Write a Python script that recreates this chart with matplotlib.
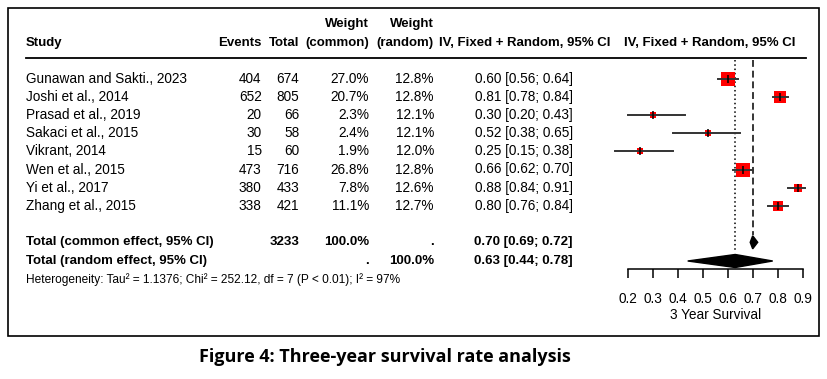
import numpy as np
import matplotlib
matplotlib.use("Agg")
import matplotlib.pyplot as plt
import matplotlib.transforms as mtransforms
from matplotlib.patches import Rectangle, Polygon

plt.rcParams['font.family'] = ['Liberation Sans', 'DejaVu Sans']

# ---- data ----
studies = ["Gunawan and Sakti., 2023", "Joshi et al., 2014", "Prasad et al., 2019",
           "Sakaci et al., 2015", "Vikrant, 2014", "Wen et al., 2015",
           "Yi et al., 2017", "Zhang et al., 2015"]
events = [404, 652, 20, 30, 15, 473, 380, 338]
totals = [674, 805, 66, 58, 60, 716, 433, 421]
w_common = [27.0, 20.7, 2.3, 2.4, 1.9, 26.8, 7.8, 11.1]
w_random = [12.8, 12.8, 12.1, 12.1, 12.0, 12.8, 12.6, 12.7]
est = [0.60, 0.81, 0.30, 0.52, 0.25, 0.66, 0.88, 0.80]
lo = [0.56, 0.78, 0.20, 0.38, 0.15, 0.62, 0.84, 0.76]
hi = [0.64, 0.84, 0.43, 0.65, 0.38, 0.70, 0.91, 0.84]

common_est, common_lo, common_hi = 0.70, 0.69, 0.72
random_est, random_lo, random_hi = 0.63, 0.44, 0.78
n_total = 3233
het_text = ("Heterogeneity: Tau\u00b2 = 1.1376; Chi\u00b2 = 252.12, df = 7 (P < 0.01); "
            "I\u00b2 = 97%")
xticks = [0.2, 0.3, 0.4, 0.5, 0.6, 0.7, 0.8, 0.9]
xlabel = "3 Year Survival"
caption = "Figure 4: Three-year survival rate analysis"

W, H = 828, 379
fig = plt.figure(figsize=(W / 100, H / 100), dpi=100)

# forest axes: x 0.1..1.0 so that 0.2 -> 627.7px and 0.9 -> 802.7px
px_per_unit = 250
ax_left = 627.7 - 0.1 * px_per_unit
ax_w = 0.9 * px_per_unit
top_px, bot_px = 58.3, 269.0
row_px = 18.1


def row_y(px):
    return (px - 79.0) / row_px + 1


fs = 9.8
fsb = 9.5

ax = fig.add_axes([ax_left / W, 1 - bot_px / H, ax_w / W, (bot_px - top_px) / H])
ax.set_xlim(0.1, 1.0)
ax.set_ylim(row_y(bot_px), row_y(top_px))
for s in ["top", "right", "left"]:
    ax.spines[s].set_visible(False)
ax.spines["bottom"].set_bounds(0.2, 0.9)
ax.spines["bottom"].set_linewidth(1.1)
ax.set_yticks([])
ax.set_xticks(xticks)
ax.set_xticklabels([f"{t:.1f}" for t in xticks], fontsize=fs)
ax.tick_params(axis="x", direction="out", length=6.5, width=1.1, pad=10)
ax.set_xlabel(xlabel, fontsize=fs, labelpad=1.5)
ax.patch.set_visible(False)

rows = np.arange(1, len(studies) + 1)
y_common = row_y(242.3)
y_random = row_y(261.0)

# reference lines (common dashed, random dotted)
ax.plot([common_est, common_est], [row_y(60), row_y(235)], color="black",
        lw=1.1, linestyle=(0, (4.5, 2.5)), clip_on=False)
ax.plot([random_est, random_est], [row_y(60), row_y(252)], color="black",
        lw=1.1, linestyle=(0, (1, 1.8)), clip_on=False)

# study squares + CIs
for y, e, l, h, w in zip(rows, est, lo, hi, w_common):
    size = 1.2 + 1.75 * np.sqrt(w)
    ax.plot(e, y, marker="s", markersize=size, color="#ff0000", mew=0,
            clip_on=False, zorder=3)
    ax.plot([l, h], [y, y], color="#333333", lw=1.4, clip_on=False, zorder=4)
    ax.plot(e, y, marker="|", markersize=6, color="black", mew=1.1,
            clip_on=False, zorder=5)

# diamonds
dh = 0.36
ax.add_patch(Polygon([[common_lo, y_common], [common_est, y_common - dh],
                      [common_hi, y_common], [common_est, y_common + dh]],
                     closed=True, color="black", clip_on=False))
ax.add_patch(Polygon([[random_lo, y_random], [random_est, y_random - dh],
                      [random_hi, y_random], [random_est, y_random + dh]],
                     closed=True, color="black", clip_on=False))

# text columns: x in figure pixels, y in row units
tr = mtransforms.blended_transform_factory(
    mtransforms.Affine2D().scale(1 / W, 1) + fig.transFigure, ax.transData)
x_study, x_ev, x_tot, x_wc, x_wr, x_ci, x_plot = 26, 261.7, 299.3, 369.3, 434, 525, 709.7

y_h1, y_h2 = row_y(24.3), row_y(42.7)
hdr = dict(transform=tr, fontsize=fsb, fontweight="bold", va="center")
fig.text(x_study, y_h2, "Study", ha="left", **hdr)
fig.text(x_ev, y_h2, "Events", ha="right", **hdr)
fig.text(x_tot, y_h2, "Total", ha="right", **hdr)
fig.text(x_wc, y_h1, "Weight", ha="right", **hdr)
fig.text(x_wc, y_h2, "(common)", ha="right", **hdr)
fig.text(x_wr, y_h1, "Weight", ha="right", **hdr)
fig.text(x_wr, y_h2, "(random)", ha="right", **hdr)
fig.text(x_ci, y_h2, "IV, Fixed + Random, 95% CI", ha="center", **hdr)
fig.text(x_plot, y_h2, "IV, Fixed + Random, 95% CI", ha="center", **hdr)

# header rule
ax.plot([26, 805.7], [row_y(58.3)] * 2, color="black", lw=1.3,
        transform=tr, clip_on=False)

body = dict(transform=tr, fontsize=fs, va="center")
for y, s, ev, n, wc, wr, e, l, h in zip(rows, studies, events, totals, w_common,
                                        w_random, est, lo, hi):
    fig.text(x_study, y, s, ha="left", **body)
    fig.text(x_ev, y, f"{ev}", ha="right", **body)
    fig.text(x_tot, y, f"{n}", ha="right", **body)
    fig.text(x_wc, y, f"{wc:.1f}%", ha="right", **body)
    fig.text(x_wr, y, f"{wr:.1f}%", ha="right", **body)
    fig.text(573, y, f"{e:.2f} [{l:.2f}; {h:.2f}]", ha="right", **body)

bold = dict(transform=tr, fontsize=fsb, va="center", fontweight="bold")
fig.text(x_study, y_common, "Total (common effect, 95% CI)", ha="left", **bold)
fig.text(x_tot, y_common, f"{n_total}", ha="right", **bold)
fig.text(x_wc, y_common, f"{sum(w_common):.1f}%", ha="right", **bold)
fig.text(x_wr, y_common, ".", ha="right", **bold)
fig.text(573, y_common, f"{common_est:.2f} [{common_lo:.2f}; {common_hi:.2f}]",
         ha="right", **bold)
fig.text(x_study, y_random, "Total (random effect, 95% CI)", ha="left", **bold)
fig.text(x_wc, y_random, ".", ha="right", **bold)
fig.text(x_wr, y_random, "100.0%", ha="right", **bold)
fig.text(573, y_random, f"{random_est:.2f} [{random_lo:.2f}; {random_hi:.2f}]",
         ha="right", **bold)
fig.text(x_study, row_y(280), het_text, ha="left", transform=tr, fontsize=8.6,
         va="center")

# frame and caption
fig.patches.append(Rectangle((8 / W, 1 - 336 / H), 811 / W, 328 / H,
                             transform=fig.transFigure, fill=False,
                             edgecolor="black", lw=1.2))
fig.text(385 / W, 1 - 356.7 / H, caption, ha="center", va="center",
         fontsize=13, fontweight="bold", family=["Open Sans", "DejaVu Sans"])

fig.savefig("out.png", dpi=100)
